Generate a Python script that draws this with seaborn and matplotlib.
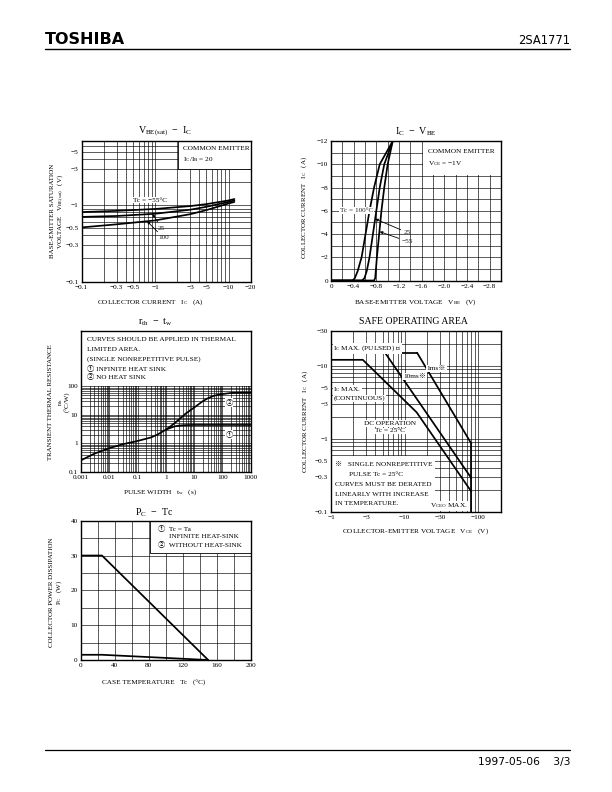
import matplotlib
matplotlib.use("Agg")
import numpy as np
import pandas as pd
import matplotlib.pyplot as plt
import seaborn as sns
from matplotlib.patches import Rectangle
from matplotlib.lines import Line2D
from matplotlib.ticker import FixedLocator, FixedFormatter, NullFormatter

# ---------------- data ----------------
# VBE(sat) - IC  (magnitudes; axis labels carry the minus sign)
sat_ic = [0.1, 0.3, 1, 3, 5, 10, 12]
sat_vbe_m55 = [0.81, 0.84, 0.89, 0.97, 1.03, 1.15, 1.20]
sat_vbe_25 = [0.70, 0.72, 0.77, 0.87, 0.95, 1.10, 1.15]
sat_vbe_100 = [0.51, 0.56, 0.63, 0.76, 0.86, 1.05, 1.10]
sat_xticks = [0.1, 0.3, 0.5, 1, 3, 5, 10, 20]
sat_xlabels = ["\u22120.1", "\u22120.3", "\u22120.5", "\u22121", "\u22123", "\u22125", "\u221210", "\u221220"]
sat_yticks = [0.1, 0.3, 0.5, 1, 3, 5]
sat_ylabels = ["\u22120.1", "\u22120.3", "\u22120.5", "\u22121", "\u22123", "\u22125"]

# IC - VBE
icv_ic = [0, 0, 0.2, 0.8, 2, 4, 6, 8, 10, 12]
icv_vbe_100 = [0, 0.38, 0.42, 0.47, 0.54, 0.61, 0.68, 0.76, 0.86, 1.09]
icv_vbe_25 = [0, 0.55, 0.59, 0.63, 0.68, 0.74, 0.80, 0.86, 0.94, 1.09]
icv_vbe_m55 = [0, 0.76, 0.78, 0.79, 0.81, 0.85, 0.89, 0.94, 1.00, 1.09]
icv_xticks = [0, 0.4, 0.8, 1.2, 1.6, 2.0, 2.4, 2.8]
icv_xlabels = ["0", "\u22120.4", "\u22120.8", "\u22121.2", "\u22121.6", "\u22122.0", "\u22122.4", "\u22122.8"]
icv_yticks = [0, 2, 4, 6, 8, 10, 12]
icv_ylabels = ["0", "\u22122", "\u22124", "\u22126", "\u22128", "\u221210", "\u221212"]

# rth - tw
rth_tw_common = [0.001, 0.003, 0.01, 0.03, 0.1, 0.3, 0.5, 1]
rth_common = [0.25, 0.43, 0.67, 0.92, 1.2, 1.6, 2.0, 3.0]
rth_tw_2 = [1, 2, 3, 5, 10, 20, 30, 50, 100, 200, 500, 1000]
rth_2 = [3.0, 5.0, 7.0, 11, 18, 30, 38, 47, 54, 59, 60, 60]
rth_tw_1 = [1, 1.5, 2, 3, 5, 10, 1000]
rth_1 = [3.0, 3.5, 3.9, 4.2, 4.35, 4.4, 4.4]
rth_xticks = [0.001, 0.01, 0.1, 1, 10, 100, 1000]
rth_xlabels = ["0.001", "0.01", "0.1", "1", "10", "100", "1000"]
rth_yticks = [0.1, 1, 10, 100]
rth_ylabels = ["0.1", "1", "10", "100"]

# Safe operating area
soa_pulse_v = [5.4, 14.7]
soa_pulse_i = [15, 15]
soa_1ms_v = [14.7, 80]
soa_1ms_i = [15, 0.86]
soa_10ms_v = [5.4, 80]
soa_10ms_i = [15, 0.29]
soa_dc_v = [1, 2.7, 14.5, 80]
soa_dc_i = [12, 12, 2.3, 0.19]
soa_vceo_v = [80, 80]
soa_vceo_i = [0.86, 0.1]
soa_xticks = [1, 3, 10, 30, 100]
soa_xlabels = ["\u22121", "\u22123", "\u221210", "\u221230", "\u2212100"]
soa_yticks = [0.1, 0.3, 0.5, 1, 3, 5, 10, 30]
soa_ylabels = ["\u22120.1", "\u22120.3", "\u22120.5", "\u22121", "\u22123", "\u22125", "\u221210", "\u221230"]

# PC - Tc
pc_tc_1 = [0, 25, 150]
pc_1 = [30, 30, 0]
pc_tc_2 = [0, 25, 150]
pc_2 = [1.5, 1.5, 0]
pc_xticks = [0, 40, 80, 120, 160, 200]
pc_xlabels = ["0", "40", "80", "120", "160", "200"]
pc_yticks = [0, 10, 20, 30, 40]
pc_ylabels = ["0", "10", "20", "30", "40"]

# ---------------- style ----------------
sns.set_theme(style="white")
plt.rcParams["font.family"] = ["Liberation Serif", "Noto Sans CJK JP", "DejaVu Sans"]
plt.rcParams["mathtext.fontset"] = "custom"
plt.rcParams["mathtext.rm"] = "Liberation Serif"
plt.rcParams["mathtext.it"] = "Liberation Serif:italic"
plt.rcParams["mathtext.bf"] = "Liberation Serif:bold"

W, H = 612, 792
fig = plt.figure(figsize=(W / 100, H / 100), dpi=100)
fig.patch.set_facecolor("white")

LW = 1.25


def add_ax(x0, y0, x1, y1):
    ax = fig.add_axes([x0 / W, 1 - y1 / H, (x1 - x0) / W, (y1 - y0) / H])
    ax.set_facecolor("white")
    for s in ax.spines.values():
        s.set_visible(True)
        s.set_color("black")
        s.set_linewidth(1.0)
    return ax


def fxy(px, py):
    return (px / W, 1 - py / H)


def ftext(px, py, s, size=5.2, ha="left", va="center", **kw):
    return fig.text(px / W, 1 - py / H, s, fontsize=size, ha=ha, va=va, color="black", **kw)


def log_minor(lo_exp, hi_exp, top=None):
    vals = []
    for e in range(lo_exp, hi_exp):
        for m in range(1, 10):
            v = m * 10.0 ** e
            if top is None or v <= top * 1.0001:
                vals.append(v)
    return vals


def setup(ax, xt, xl, yt, yl, xminor, yminor):
    ax.xaxis.set_major_locator(FixedLocator(xt))
    ax.xaxis.set_major_formatter(FixedFormatter(xl))
    ax.yaxis.set_major_locator(FixedLocator(yt))
    ax.yaxis.set_major_formatter(FixedFormatter(yl))
    ax.xaxis.set_minor_locator(FixedLocator(xminor))
    ax.yaxis.set_minor_locator(FixedLocator(yminor))
    ax.xaxis.set_minor_formatter(NullFormatter())
    ax.yaxis.set_minor_formatter(NullFormatter())
    ax.tick_params(which="both", length=0, labelsize=5.2, pad=2.2, colors="black")
    ax.grid(True, which="both", color="black", lw=0.45)
    ax.set_axisbelow(True)
    ax.set_xlabel("")
    ax.set_ylabel("")


def curve(ax, x, y):
    sns.lineplot(x=x, y=y, ax=ax, color="black", lw=LW, sort=False, estimator=None)


def sub(base, s):
    return base + r"$_{\mathregular{" + s + r"}}$"


# ---------------- header / footer ----------------
ftext(45, 40, "TOSHIBA", size=11.5, weight="bold", family="DejaVu Sans")
ftext(570, 41, "2SA1771", size=8.3, ha="right", family="DejaVu Sans")
fig.add_artist(Line2D([45 / W, 570 / W], [1 - 49 / H] * 2, color="black", lw=1.0))
fig.add_artist(Line2D([45 / W, 570 / W], [1 - 750 / H] * 2, color="black", lw=0.9))
ftext(570, 762, "1997-05-06    3/3", size=7.7, ha="right", family="DejaVu Sans")

# ---------------- chart 1: VBE(sat) - IC ----------------
ax1 = add_ax(81.5, 141, 250.7, 281.5)
for yv in (sat_vbe_m55, sat_vbe_25, sat_vbe_100):
    curve(ax1, sat_ic, yv)
ax1.set_xscale("log")
ax1.set_yscale("log")
ax1.set_xlim(0.1, 20)
ax1.set_ylim(0.1, 6.9)
setup(ax1, sat_xticks, sat_xlabels, sat_yticks, sat_ylabels,
      log_minor(-1, 2, top=20), log_minor(-1, 1, top=7))
ax1.add_patch(Rectangle((0.57, 0.80), 0.43, 0.2, transform=ax1.transAxes,
                        facecolor="white", edgecolor="black", lw=0.6, zorder=1))
ftext(183, 149, "COMMON EMITTER")
ftext(183, 160, sub("I", "C") + "/" + sub("I", "B") + " = 20")
ftext(150, 200, "Tc = \u221255\u00b0C", ha="center",
      bbox=dict(facecolor="white", edgecolor="none", pad=0.6))
ax1.annotate("25", xy=(0.92, 0.765), xytext=fxy(158, 228), textcoords="figure fraction",
             fontsize=5.2, va="center", ha="left",
             arrowprops=dict(arrowstyle="-|>", color="black", lw=0.6, mutation_scale=4, shrinkA=0, shrinkB=0))
ax1.annotate("100", xy=(0.78, 0.615), xytext=fxy(158, 237.5), textcoords="figure fraction",
             fontsize=5.2, va="center", ha="left",
             arrowprops=dict(arrowstyle="-|>", color="black", lw=0.6, mutation_scale=4, shrinkA=0, shrinkB=0))
ftext(165, 131, sub("V", "BE(sat)") + "  \u2212  " + sub("I", "C"), size=7.2, ha="center")
ftext(52, 211, "BASE-EMITTER SATURATION", rotation=90, ha="center", size=5.0)
ftext(61, 211, "VOLTAGE   " + sub("V", "BE(sat)") + "   (V)", rotation=90, ha="center", size=5.0)
ftext(150, 302, "COLLECTOR CURRENT   " + sub("I", "C") + "   (A)", ha="center", size=5.2)

# ---------------- chart 2: IC - VBE ----------------
ax2 = add_ax(331, 141, 501, 280.5)
for xv in (icv_vbe_100, icv_vbe_25, icv_vbe_m55):
    curve(ax2, xv, icv_ic)
ax2.set_xlim(0, 3.0)
ax2.set_ylim(0, 12)
setup(ax2, icv_xticks, icv_xlabels, icv_yticks, icv_ylabels,
      [round(0.2 * k, 2) for k in range(16)], list(range(13)))
ax2.add_patch(Rectangle((0.54, 0.756), 0.46, 0.244, transform=ax2.transAxes,
                        facecolor="white", edgecolor="none", zorder=1))
ftext(428, 151.5, "COMMON EMITTER")
ftext(428, 164, sub("V", "CE") + " = \u22121V")
ax2.annotate("Tc = 100\u00b0C", xy=(0.68, 6.0), xytext=fxy(340, 210.7), textcoords="figure fraction",
             fontsize=5.2, va="center", ha="left",
             bbox=dict(facecolor="white", edgecolor="none", pad=0.6),
             arrowprops=dict(arrowstyle="-", color="black", lw=0.6, shrinkA=0, shrinkB=0))
ax2.annotate("25", xy=(0.78, 5.3), xytext=fxy(404, 232.7), textcoords="figure fraction",
             fontsize=5.2, va="center", ha="left",
             arrowprops=dict(arrowstyle="-|>", color="black", lw=0.6, mutation_scale=4, shrinkA=0, shrinkB=0))
ax2.annotate("\u221255", xy=(0.86, 4.2), xytext=fxy(402, 241.5), textcoords="figure fraction",
             fontsize=5.2, va="center", ha="left",
             arrowprops=dict(arrowstyle="-|>", color="black", lw=0.6, mutation_scale=4, shrinkA=0, shrinkB=0))
ftext(416, 132, sub("I", "C") + "  \u2212  " + sub("V", "BE"), size=7.2, ha="center")
ftext(304, 207, "COLLECTOR CURRENT   " + sub("I", "C") + "   (A)", rotation=90, ha="center", size=5.0)
ftext(415, 302, "BASE-EMITTER VOLTAGE   " + sub("V", "BE") + "   (V)", ha="center", size=5.2)

# ---------------- chart 3: rth - tw ----------------
ax3 = add_ax(81, 330.7, 250.7, 471.6)
curve(ax3, rth_tw_common, rth_common)
curve(ax3, rth_tw_2, rth_2)
curve(ax3, rth_tw_1, rth_1)
ax3.set_xscale("log")
ax3.set_yscale("log")
ax3.set_xlim(0.001, 1000)
ax3.set_ylim(0.1, 9200)
setup(ax3, rth_xticks, rth_xlabels, rth_yticks, rth_ylabels,
      log_minor(-3, 4, top=1000), log_minor(-1, 3, top=100))
ax3.add_patch(Rectangle((0.001, 103), 1000, 9200, facecolor="white", edgecolor="none", zorder=1))
ftext(87, 339.3, "CURVES SHOULD BE APPLIED IN THERMAL")
ftext(87, 349.3, "LIMITED AREA.")
ftext(87, 359.3, "(SINGLE NONREPETITIVE PULSE)")
ftext(87, 368, "\u2460 INFINITE HEAT SINK")
ftext(87, 377, "\u2461 NO HEAT SINK")
ftext(229, 402.7, "\u2461", ha="center", bbox=dict(facecolor="white", edgecolor="none", pad=0.5))
ftext(229, 434.3, "\u2460", ha="center", bbox=dict(facecolor="white", edgecolor="none", pad=0.5))
ftext(155, 322, sub("r", "th") + "  \u2212  " + sub("t", "w"), size=7.2, ha="center")
ftext(51, 402, "TRANSIENT THERMAL RESISTANCE", rotation=90, ha="center", size=5.0)
ftext(61, 402, sub("r", "th"), rotation=90, ha="center", size=5.0)
ftext(68, 402, "(\u00b0C/W)", rotation=90, ha="center", size=5.0)
ftext(160, 492, "PULSE WIDTH   " + sub("t", "w") + "   (s)", ha="center", size=5.2)

# ---------------- chart 4: SOA ----------------
ax4 = add_ax(331, 330.7, 500.7, 512)
curve(ax4, soa_pulse_v, soa_pulse_i)
curve(ax4, soa_1ms_v, soa_1ms_i)
curve(ax4, soa_10ms_v, soa_10ms_i)
curve(ax4, soa_dc_v, soa_dc_i)
curve(ax4, soa_vceo_v, soa_vceo_i)
ax4.set_xscale("log")
ax4.set_yscale("log")
ax4.set_xlim(1, 200)
ax4.set_ylim(0.1, 30)
setup(ax4, soa_xticks, soa_xlabels, soa_yticks, soa_ylabels,
      log_minor(0, 3, top=200), log_minor(-1, 2, top=30))
ax4.add_patch(Rectangle((1, 0.1), 25, 0.49, facecolor="white", edgecolor="none", zorder=1))
wb = dict(facecolor="white", edgecolor="none", pad=0.5)
ftext(333.5, 348.3, sub("I", "C") + " MAX. (PULSED) \u203b", bbox=wb)
ftext(426.7, 368.3, "1ms\u203b", bbox=wb)
ftext(403, 376.7, "10ms\u203b", bbox=wb)
ftext(333.5, 390, sub("I", "C") + " MAX.", bbox=wb)
ftext(333.5, 398.3, "(CONTINUOUS)", bbox=wb)
ftext(390, 423.3, "DC OPERATION", ha="center", bbox=wb)
ftext(390, 431, "Tc = 25\u00b0C", ha="center", bbox=wb)
ftext(335, 465, "\u203b   SINGLE NONREPETITIVE")
ftext(349, 474.5, "PULSE Tc = 25\u00b0C")
ftext(335, 484, "CURVES MUST BE DERATED")
ftext(335, 494, "LINEARLY WITH INCREASE")
ftext(335, 503.3, "IN TEMPERATURE.")
ftext(430, 506, sub("V", "CEO") + " MAX.", bbox=wb)
ftext(413, 321.5, "SAFE OPERATING AREA", size=7.0, ha="center")
ftext(305, 421, "COLLECTOR CURRENT   " + sub("I", "C") + "   (A)", rotation=90, ha="center", size=5.0)
ftext(416, 531, "COLLECTOR-EMITTER VOLTAGE   " + sub("V", "CE") + "   (V)", ha="center", size=5.2)

# ---------------- chart 5: PC - Tc ----------------
ax5 = add_ax(80.7, 520.7, 250.7, 660)
curve(ax5, pc_tc_1, pc_1)
curve(ax5, pc_tc_2, pc_2)
ax5.set_xlim(0, 200)
ax5.set_ylim(0, 40)
setup(ax5, pc_xticks, pc_xlabels, pc_yticks, pc_ylabels,
      list(range(0, 201, 20)), list(range(0, 41, 5)))
ax5.add_patch(Rectangle((0.408, 0.77), 0.592, 0.23, transform=ax5.transAxes,
                        facecolor="white", edgecolor="black", lw=0.6, zorder=1))
ftext(158, 528.3, "\u2460  Tc = Ta")
ftext(169, 536.7, "INFINITE HEAT-SINK")
ftext(158, 545, "\u2461  WITHOUT HEAT-SINK")
ftext(154, 513, sub("P", "C") + "  \u2212  Tc", size=7.2, ha="center")
ftext(51.5, 592, "COLLECTOR POWER DISSIPATION", rotation=90, ha="center", size=5.0)
ftext(59.5, 592, sub("P", "C") + "   (W)", rotation=90, ha="center", size=5.0)
ftext(154, 682.5, "CASE TEMPERATURE   Tc   (\u00b0C)", ha="center", size=5.2)

fig.savefig("out.png", dpi=100, facecolor="white")
